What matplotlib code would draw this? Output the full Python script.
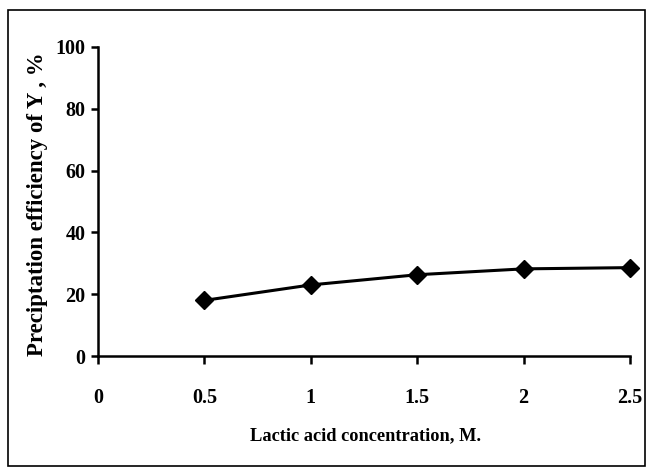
import matplotlib.pyplot as plt
from matplotlib.patches import Rectangle

conc = [0.5, 1.0, 1.5, 2.0, 2.5]
eff = [18.0, 23.0, 26.3, 28.2, 28.6]
xticks = [0, 0.5, 1, 1.5, 2, 2.5]
xticklabels = ["0", "0.5", "1", "1.5", "2", "2.5"]
yticks = [0, 20, 40, 60, 80, 100]

plt.rcParams['font.family'] = 'Liberation Serif'
plt.rcParams['font.weight'] = 'bold'

fig = plt.figure(figsize=(6.51, 4.71), dpi=100)
ax = fig.add_axes([98/651, 1-356/471, (630-98)/651, (356-47)/471])

ax.plot(conc, eff, color="black", linewidth=2.2, marker="D", markersize=9.5, clip_on=False)

ax.set_xlim(0, 2.5)
ax.set_ylim(0, 100)
ax.set_xticks(xticks)
ax.set_xticklabels(xticklabels)
ax.set_yticks(yticks)
for s in ["top", "right"]:
    ax.spines[s].set_visible(False)
for s in ["left", "bottom"]:
    ax.spines[s].set_linewidth(1.8)
ax.tick_params(axis="x", direction="out", length=6, width=1.8, pad=17, labelsize=14.5)
ax.tick_params(axis="y", direction="out", length=5, width=1.8, pad=4, labelsize=14.5)
for lab in ax.get_xticklabels() + ax.get_yticklabels():
    lab.set_fontweight("bold")

ax.set_xlabel("Lactic acid concentration, M.", fontsize=13.2, fontweight="bold")
ax.set_ylabel("Preciptation efficiency of Y , %", fontsize=16.5, fontweight="bold")
ax.xaxis.set_label_coords(0.502, -0.232)
ax.yaxis.set_label_coords(-0.094, 0.49)

fig.patches.append(Rectangle((8/651, 1-466/471), (645-8)/651, (466-10)/471,
                             transform=fig.transFigure, fill=False,
                             edgecolor="black", linewidth=1.2))

fig.savefig("out.png", dpi=100)
